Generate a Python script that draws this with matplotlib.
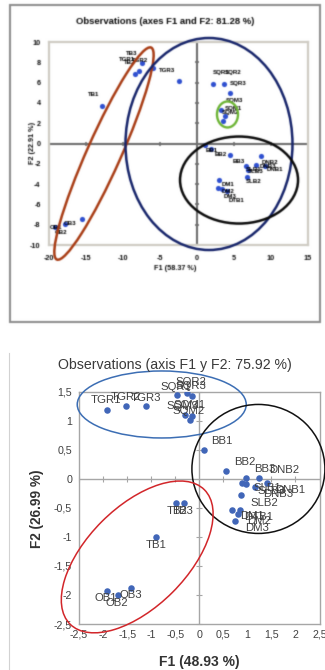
import matplotlib
matplotlib.use('Agg')
import matplotlib.pyplot as plt
import numpy as np
from matplotlib.patches import Ellipse, Rectangle
from matplotlib.transforms import ScaledTranslation
from matplotlib.lines import Line2D

plt.rcParams['font.family'] = ['Liberation Sans', 'DejaVu Sans']

# --- upper map: observations on F1/F2 (81.28 %) ---
obs_a = ['TB1', 'TB2', 'TB3', 'TGR1', 'TGR3', 'TGR2', 'OB1', 'OB2', 'OB3',
         'SQR1', 'SQR2', 'SQR3', 'SQM3', 'SQM1', 'SQM2',
         'BB1', 'BB2', 'BB3', 'SLB1', 'SLB3', 'SLB2', 'DNB2', 'DNB3', 'DNB1',
         'DM1', 'DM2', 'DM3', 'DTB1']
f1_a = [-12.9, -8.4, -7.8, -7.5, -5.9, -2.4, -19.2, -17.8, -15.6,
        2.2, 3.7, 4.4, 3.2, 3.8, 3.55,
        1.1, 1.9, 4.5, 6.6, 6.9, 6.7, 8.7, 8.0, 9.2,
        3.0, 2.9, 3.4, 4.1]
f2_a = [3.7, 6.85, 7.1, 7.9, 7.4, 6.15, -8.2, -7.9, -7.4,
        5.9, 5.9, 5.0, 3.3, 2.7, 2.2,
        -0.15, -0.55, -1.1, -2.2, -2.6, -3.3, -1.2, -2.1, -2.2,
        -3.6, -4.4, -4.5, -4.7]
xticks_a = [-20, -15, -10, -5, 0, 5, 10, 15]
yticks_a = [-10, -8, -6, -4, -2, 0, 2, 4, 6, 8, 10]

# --- lower map: observations on F1/F2 (75.92 %) ---
obs_b = ['TGR1', 'TGR2', 'TGR3', 'SQR1', 'SQR2', 'SQR3', 'SQM3', 'SQM2', 'SQM1',
         'BB1', 'BB2', 'BB3', 'DNB2', 'DNB1', 'DNB3', 'SLB1', 'SLB3', 'SLB2',
         'DM1', 'DTB1', 'DM2', 'DM3', 'TB2', 'TB3', 'TB1', 'OB1', 'OB2', 'OB3']
f1_b = [-1.91, -1.52, -1.11, -0.46, -0.25, -0.15, -0.29, -0.20, -0.15,
        0.09, 0.56, 0.97, 1.24, 1.41, 1.15, 0.89, 0.97, 0.87,
        0.69, 0.80, 0.85, 0.75, -0.48, -0.31, -0.90, -1.91, -1.69, -1.42]
f2_b = [1.18, 1.26, 1.26, 1.45, 1.48, 1.42, 1.10, 1.02, 1.08,
        0.49, 0.13, 0.02, 0.01, -0.07, -0.14, -0.07, -0.09, -0.28,
        -0.54, -0.60, -0.54, -0.73, -0.42, -0.42, -1.01, -1.93, -2.00, -1.88]
xticks_b = [-2.5, -2, -1.5, -1, -0.5, 0, 0.5, 1, 1.5, 2, 2.5]
yticks_b = [-2.5, -2, -1.5, -1, -0.5, 0, 0.5, 1, 1.5]

# label placement (pixels from the point; dx is to the text centre)
place_a = [(-8, 11), (-5, 11), (-8, 18), (-14, 4), (14, -2), (-39, 21),
           (1, -1), (-4, -9), (-11, -5),
           (8, 11), (9, 11), (9, 9), (14, 10), (8, 8), (7, 9),
           (7, -5), (10, -5), (8, -7), (8, -4), (8, -2), (7, -5),
           (8, -7), (12, -2), (10, -4), (9, -4), (10, -3), (8, -7), (9, -9)]
# (ha, dx, dy) for the lower map
place_b = [('center', -1, 10), ('center', 0, 9), ('center', 0, 8),
           ('center', -1, 8), ('center', 4, 11), ('center', -1, 10),
           ('center', -3, 9), ('center', -1, 9), ('center', -2, 11),
           ('left', 8, 9), ('left', 8, 9), ('left', 8, 9), ('left', 10, 8),
           ('left', 8, -7), ('left', 9, -7), ('left', 11, -5), ('left', 12, -7),
           ('left', 9, -8), ('left', 8, -6), ('left', 6, -3), ('left', 7, -11),
           ('left', 10, -7), ('center', 1, -8), ('center', -1, -8),
           ('center', 0, -8), ('center', -2, -7), ('center', -1, -8),
           ('center', 0, -7)]

W, H = 325, 670
fig = plt.figure(figsize=(W / 100, H / 100), dpi=100)


def ring(ax, x, y, w, h, angle, color, lw):
    # ellipse sized in pixels, centred on a data point
    tr = fig.dpi_scale_trans + ScaledTranslation(x, y, ax.transData)
    ax.add_patch(Ellipse((0, 0), w / 100, h / 100, angle=angle, transform=tr,
                         fill=False, ec=color, lw=lw, clip_on=False, zorder=5))


def excel_axes(ax, xt, yt, zcol, zlw, tick_ms):
    ax.axhline(0, color=zcol, lw=zlw, zorder=1)
    ax.axvline(0, color=zcol, lw=zlw, zorder=1)
    xs = [v for v in xt if v != 0]
    ys = [v for v in yt if v != 0]
    ax.plot(xs, np.zeros(len(xs)), ls='none', marker='|', ms=tick_ms, mew=zlw * 0.8,
            color=zcol, zorder=1, clip_on=False)
    ax.plot(np.zeros(len(ys)), ys, ls='none', marker='_', ms=tick_ms, mew=zlw * 0.8,
            color=zcol, zorder=1, clip_on=False)


# ==================== upper panel ====================
fig.add_artist(Rectangle((10 / W, 1 - 322 / H), 310 / W, 317 / H, transform=fig.transFigure,
                         fill=False, ec='#8f8f8f', lw=1.5))

ax1 = fig.add_axes([49 / W, 1 - 245 / H, 259 / W, 203 / H])
ax1.set_xlim(-20, 15)
ax1.set_ylim(-10, 10)
ax1.set_xticks(xticks_a)
ax1.set_yticks(yticks_a)
ax1.set_xticklabels([str(v) for v in xticks_a])
ax1.set_yticklabels([str(v) for v in yticks_a])
ax1.tick_params(length=0, labelsize=5.2, colors='#111111')
ax1.tick_params(axis='x', pad=7)
ax1.tick_params(axis='y', pad=6)
for t in ax1.get_xticklabels() + ax1.get_yticklabels():
    t.set_fontweight('bold')
for s in ax1.spines.values():
    s.set_color('#cfccc4')
    s.set_linewidth(1.6)
excel_axes(ax1, xticks_a, yticks_a, '#6e6e6e', 1.5, 3.5)

ax1.scatter(f1_a, f2_a, s=14, color='#2f50d0', lw=0, zorder=3)
for name, x, y, (dx, dy) in zip(obs_a, f1_a, f2_a, place_a):
    ax1.annotate(name, (x, y), xytext=(dx, dy), textcoords='offset pixels',
                 ha='center', va='center', fontsize=4.4, fontweight='bold',
                 color='#000000', zorder=4)

ring(ax1, -12.57, -0.99, 232, 34, 66, '#a83c14', 1.8)
ring(ax1, 1.62, -0.05, 167, 212, 0, '#16246a', 1.8)
ring(ax1, 5.68, -3.6, 118, 87, 0, '#0a0a0a', 1.8)
ring(ax1, 4.12, 2.86, 21, 26, 0, '#6cb434', 1.7)

fig.text(165 / W, 1 - 22 / H, 'Observations (axes F1 and F2: 81.28 %)', ha='center',
         va='center', fontsize=6.8, fontweight='bold', color='#0d0d0d')
fig.text(175 / W, 1 - 269 / H, 'F1 (58.37 %)', ha='center', va='center',
         fontsize=5.2, fontweight='bold', color='#0d0d0d')
fig.text(33 / W, 1 - 143 / H, 'F2 (22.91 %)', ha='center', va='center', rotation=90,
         fontsize=5.2, fontweight='bold', color='#0d0d0d')

# ==================== lower panel ====================
fig.add_artist(Line2D([9 / W, 9 / W], [0, 1 - 353 / H], transform=fig.transFigure,
                      color='#d2d2d2', lw=0.8))

ax2 = fig.add_axes([79 / W, 1 - 624 / H, 240.5 / W, 232.3 / H])
ax2.set_xlim(-2.5, 2.5)
ax2.set_ylim(-2.5, 1.5)
ax2.set_xticks(xticks_b)
ax2.set_yticks(yticks_b)
ax2.set_xticklabels([('%g' % v).replace('.', ',') for v in xticks_b])
ax2.set_yticklabels([('%g' % v).replace('.', ',') for v in yticks_b])
ax2.tick_params(length=0, labelsize=7.7, colors='#404040')
ax2.tick_params(axis='x', pad=4)
ax2.tick_params(axis='y', pad=5)
for s in ax2.spines.values():
    s.set_color('#a6a6a6')
    s.set_linewidth(1.0)
excel_axes(ax2, xticks_b, yticks_b, '#a6a6a6', 1.0, 4.5)

ax2.scatter(f1_b, f2_b, s=22, color='#4166b8', lw=0, zorder=3)
for name, x, y, (ha, dx, dy) in zip(obs_b, f1_b, f2_b, place_b):
    ax2.annotate(name, (x, y), xytext=(dx, dy), textcoords='offset pixels',
                 ha=ha, va='center', fontsize=8.2, color='#404040', zorder=4,
                 annotation_clip=False)

ring(ax2, -0.78, 1.28, 169, 67, 0, '#3c6eb4', 1.1)
ring(ax2, 1.23, 0.17, 133, 129, 0, '#111111', 1.1)
ring(ax2, -1.29, -1.345, 190, 100, 45, '#d2262a', 1.1)

fig.text(175 / W, 1 - 365 / H, 'Observations (axis F1 y F2: 75.92 %)', ha='center',
         va='center', fontsize=10.2, color='#3a3a3a')
fig.text(199 / W, 1 - 662 / H, 'F1 (48.93 %)', ha='center', va='center',
         fontsize=10, fontweight='bold', color='#333333')
fig.text(37 / W, 1 - 509 / H, 'F2 (26.99 %)', ha='center', va='center', rotation=90,
         fontsize=9.8, fontweight='bold', color='#333333')

# the upper map is a scanned print: soften it slightly before saving
fig.canvas.draw()
img = np.asarray(fig.canvas.buffer_rgba())[..., :3].astype(float) / 255
k = np.exp(-np.arange(-2, 3) ** 2 / (2 * 0.6 ** 2))
k /= k.sum()
n = 335
top = np.pad(img[:n], ((2, 2), (2, 2), (0, 0)), mode='edge')
top = sum(k[i] * top[i:i + n] for i in range(5))
top = sum(k[i] * top[:, i:i + W] for i in range(5))
img[:n] = top
plt.imsave('out.png', np.clip(img, 0, 1))
